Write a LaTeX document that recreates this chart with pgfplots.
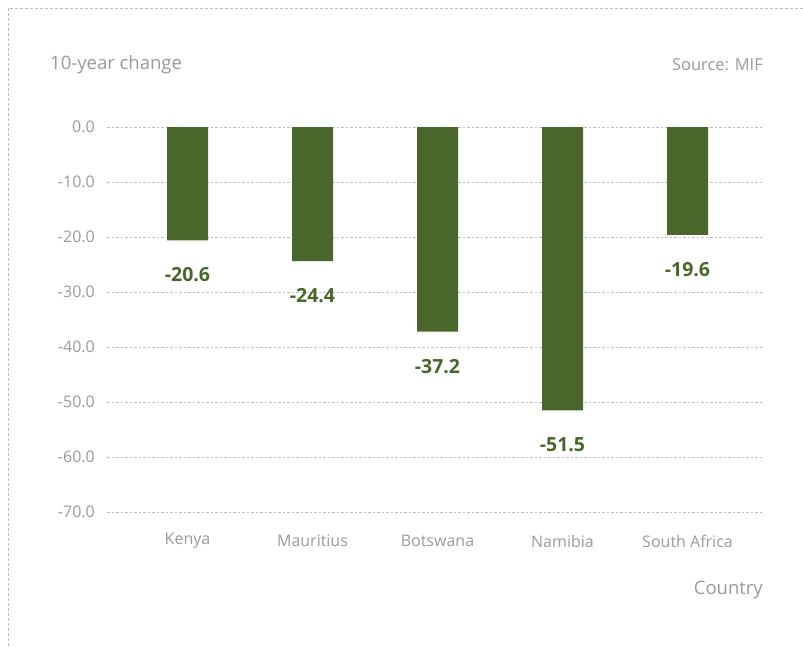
\documentclass[border=0pt]{standalone}
\usepackage{pgfplots}
\pgfplotsset{compat=1.18}
\usepackage{fontspec}
\setmainfont{Open Sans}
\definecolor{bargreen}{HTML}{4A672B}
\definecolor{txtgray}{HTML}{9A9A9A}
\definecolor{gridgray}{HTML}{BDBDBD}
\begin{document}
\begin{tikzpicture}
\useasboundingbox (0pt,0pt) rectangle (803pt,646pt);
\draw[gridgray, line width=0.7pt, dash pattern=on 3pt off 2pt] (8pt,0pt) -- (8pt,638pt) -- (803pt,638pt);
\begin{axis}[
  at={(107pt,134pt)}, anchor=south west,
  scale only axis, width=656pt, height=385pt,
  ybar, bar width=41pt,
  xmin=-0.644, xmax=4.604,
  ymin=-70, ymax=0,
  axis lines=none,
  xtick=\empty, ytick=\empty,
  clip=false,
  nodes near coords,
  nodes near coords style={font=\fontsize{19.5}{21}\selectfont\bfseries, text=bargreen, anchor=north, yshift=-24pt},
  point meta=explicit symbolic,
]
\foreach \yv/\lab in {-70/-70.0,-60/-60.0,-50/-50.0,-40/-40.0,-30/-30.0,-20/-20.0,-10/-10.0,0/0.0} {
  \edef\tmp{\noexpand\draw[gridgray, line width=0.6pt, dash pattern=on 2.5pt off 2pt] (axis cs:-0.644,\yv) -- (axis cs:4.604,\yv);
  \noexpand\node[anchor=east, text=txtgray, font=\noexpand\fontsize{16}{18}\noexpand\selectfont, inner sep=0pt] at ([xshift=-12pt]axis cs:-0.644,\yv) {\lab};}
  \tmp
}
\foreach \i/\n in {0/Kenya,1/Mauritius,2/Botswana,3/Namibia,4/South Africa} {
  \edef\tmp{\noexpand\node[text=txtgray, font=\noexpand\fontsize{16}{18}\noexpand\selectfont, inner sep=0pt] at ([yshift=-29pt]axis cs:\i,-70) {\n};}
  \tmp
}
\addplot[fill=bargreen, draw=none] table[meta=lab] {
x y lab
0 -20.6 -20.6
1 -24.4 -24.4
2 -37.2 -37.2
3 -51.5 -51.5
4 -19.6 -19.6
};
\end{axis}
\node[anchor=west, text=txtgray, font=\fontsize{18.5}{20}\selectfont, inner sep=0pt] at (50pt,581pt) {10-year change};
\node[anchor=east, text=txtgray, font=\fontsize{16.5}{18}\selectfont, inner sep=0pt] at (763pt,581pt) {Source: MIF};
\node[anchor=east, text=txtgray, font=\fontsize{18.5}{20}\selectfont, inner sep=0pt] at (763pt,56pt) {Country};
\end{tikzpicture}
\end{document}
